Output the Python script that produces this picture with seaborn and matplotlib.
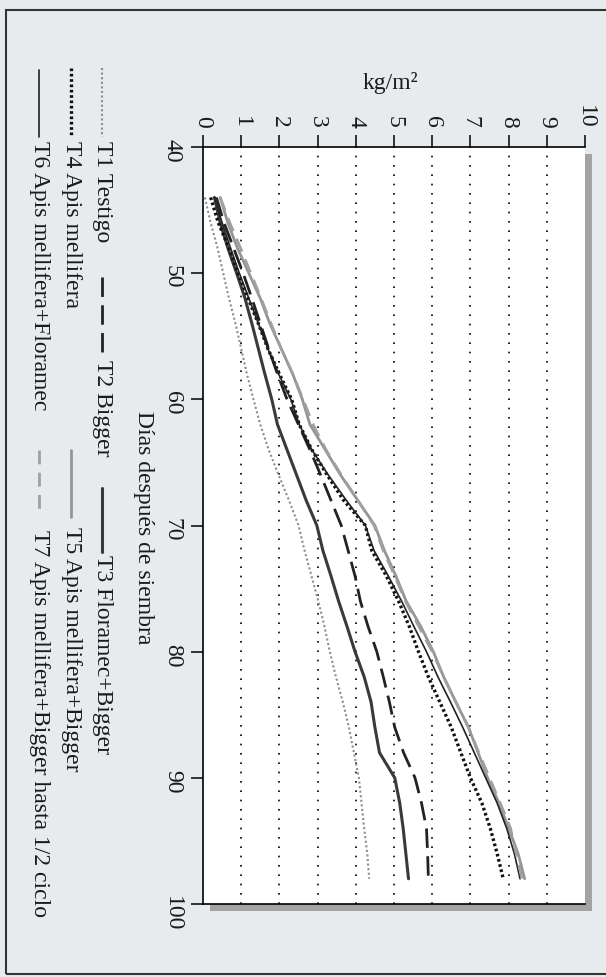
import numpy as np
import pandas as pd
import matplotlib
matplotlib.use('agg')
import matplotlib.pyplot as plt
from matplotlib.lines import Line2D
from matplotlib.patches import Rectangle
import seaborn as sns

# días después de siembra
dias = [44, 46, 48, 50, 52, 54, 56, 58, 60, 62, 64, 66, 68, 70,
        72, 74, 76, 78, 80, 82, 84, 86, 88, 90, 92, 94, 96, 98]

# kg/m2 por tratamiento
t1 = [0.05, 0.20, 0.38, 0.53, 0.68, 0.85, 1.00, 1.15, 1.32, 1.50, 1.72, 1.98, 2.25, 2.50,
      2.66, 2.84, 3.02, 3.18, 3.32, 3.48, 3.66, 3.82, 3.95, 4.08, 4.15, 4.22, 4.30, 4.35]
t2 = [0.35, 0.55, 0.80, 1.05, 1.28, 1.50, 1.72, 1.95, 2.20, 2.50, 2.80, 3.08, 3.35, 3.62,
      3.80, 3.98, 4.12, 4.32, 4.55, 4.72, 4.88, 5.02, 5.25, 5.55, 5.72, 5.85, 5.88, 5.90]
t3 = [0.30, 0.45, 0.65, 0.88, 1.10, 1.28, 1.45, 1.62, 1.80, 1.95, 2.20, 2.45, 2.70, 2.98,
      3.14, 3.35, 3.55, 3.77, 3.98, 4.22, 4.40, 4.50, 4.62, 5.02, 5.15, 5.24, 5.31, 5.38]
t4 = [0.20, 0.40, 0.68, 0.92, 1.18, 1.45, 1.70, 2.00, 2.32, 2.52, 2.85, 3.25, 3.68, 4.25,
      4.42, 4.80, 5.12, 5.40, 5.64, 5.90, 6.20, 6.50, 6.75, 7.00, 7.30, 7.52, 7.70, 7.86]
t5 = [0.45, 0.65, 0.90, 1.20, 1.50, 1.75, 2.05, 2.35, 2.60, 2.80, 3.20, 3.60, 4.05, 4.50,
      4.75, 5.05, 5.32, 5.70, 6.03, 6.30, 6.62, 6.95, 7.20, 7.45, 7.75, 8.00, 8.25, 8.42]
t6 = [0.30, 0.50, 0.72, 0.95, 1.20, 1.45, 1.70, 1.98, 2.30, 2.52, 2.85, 3.28, 3.75, 4.25,
      4.48, 4.85, 5.20, 5.52, 5.85, 6.15, 6.48, 6.80, 7.10, 7.40, 7.70, 7.95, 8.15, 8.30]
t7 = [0.45, 0.70, 0.98, 1.25, 1.52, 1.78, 2.05, 2.35, 2.62, 2.88, 3.22, 3.62, 4.05, 4.48,
      4.72, 5.02, 5.30, 5.65, 6.00, 6.30, 6.62, 6.95, 7.22, 7.50, 7.78, 8.05, 8.20, 8.35]

nombres = ['T1 Testigo', 'T2 Bigger', 'T3 Floramec+Bigger', 'T4 Apis mellifera',
           'T5 Apis mellifera+Bigger', 'T6 Apis mellifera+Floramec',
           'T7 Apis mellifera+Bigger hasta 1/2 ciclo']
series = [t1, t2, t3, t4, t5, t6, t7]

estilos = {
    'T1 Testigo': dict(color='#8c8c8c', lw=1.5, ls=(0, (1, 1.2))),
    'T2 Bigger': dict(color='#222222', lw=2.0, ls=(0, (7, 3))),
    'T3 Floramec+Bigger': dict(color='#3a3a3a', lw=2.2, ls='-'),
    'T4 Apis mellifera': dict(color='#111111', lw=2.4, ls=(0, (0.8, 0.8))),
    'T5 Apis mellifera+Bigger': dict(color='#959595', lw=2.0, ls='-'),
    'T6 Apis mellifera+Floramec': dict(color='#222222', lw=1.2, ls='-'),
    'T7 Apis mellifera+Bigger hasta 1/2 ciclo': dict(color='#a0a0a0', lw=2.0, ls=(0, (5, 3))),
}

sns.set_theme(style='white')
plt.rcParams['font.family'] = ['Liberation Serif', 'DejaVu Serif']
fs = 17

W, H = 606, 977
fig = plt.figure(figsize=(W / 100, H / 100), dpi=100)
fig.patch.set_facecolor('#e8ebed')

def fx(px):
    return px / W

def fy(py):
    return 1 - py / H

# marco exterior
fig.add_artist(Rectangle((fx(6), fy(974)), 1.0, (974 - 10) / H, transform=fig.transFigure,
                         facecolor='none', edgecolor='#333333', lw=1.5, zorder=-3))

# posición del gráfico (girado 90°)
x0, x1, y0, y1 = 203, 585, 147, 904
ax = fig.add_axes([fx(x0), fy(y1), (x1 - x0) / W, (y1 - y0) / H])
ax.set_facecolor('white')

# sombra
fig.add_artist(Rectangle((fx(x0 + 7), fy(y1 + 7)), (x1 - x0) / W, (y1 - y0) / H,
                         transform=fig.transFigure, facecolor='#a3a3a3',
                         edgecolor='none', zorder=-1))

for nom, vals in zip(nombres, series):
    st = estilos[nom]
    sns.lineplot(x=vals, y=dias, orient='y', ax=ax, color=st['color'],
                 linewidth=st['lw'], linestyle=st['ls'], legend=False)

for v in range(1, 10):
    ax.axvline(v, color='black', lw=1.2, ls=(0, (1, 4.6)), zorder=0)

ax.set_xlim(0, 10)
ax.set_ylim(100, 40)
ax.set_xticks(range(0, 11))
ax.set_yticks(range(40, 101, 10))
ax.xaxis.tick_top()
ax.tick_params(axis='both', direction='out', length=8.5, width=1.1, color='black',
               labelsize=fs, labelrotation=-90, labelcolor='#1a1a1a')
ax.tick_params(axis='x', pad=5)
ax.tick_params(axis='y', pad=6, left=True)
for s in ['left', 'top', 'bottom']:
    ax.spines[s].set_color('black')
    ax.spines[s].set_linewidth(1.2)
ax.spines['right'].set_visible(False)
ax.set_xlabel('')
ax.set_ylabel('')

fig.text(fx(390), fy(83), 'kg/m²', fontsize=fs, ha='center', va='center', color='#1a1a1a')
fig.text(fx(143), fy(528), 'Días después de siembra', fontsize=fs, rotation=-90,
         ha='center', va='center', color='#1a1a1a')

# leyenda (posiciones en píxeles de la imagen)
leyenda = [
    ('T1 Testigo', 102, 68, 137, 141),
    ('T2 Bigger', 102, 277, 357, 360),
    ('T3 Floramec+Bigger', 102, 488, 552, 555),
    ('T4 Apis mellifera', 71, 68, 137, 141),
    ('T5 Apis mellifera+Bigger', 71, 450, 517, 527),
    ('T6 Apis mellifera+Floramec', 39, 70, 137, 141),
    ('T7 Apis mellifera+Bigger hasta 1/2 ciclo', 39, 450, 513, 530),
]
for nom, px, ya, yb, yt in leyenda:
    st = estilos[nom]
    fig.add_artist(Line2D([fx(px), fx(px)], [fy(ya), fy(yb)], transform=fig.transFigure,
                          color=st['color'], lw=st['lw'], ls=st['ls']))
    fig.text(fx(px), fy(yt), nom, fontsize=fs, rotation=-90, ha='center', va='top',
             color='#1a1a1a')

fig.savefig('out.png', dpi=100, facecolor=fig.get_facecolor())
